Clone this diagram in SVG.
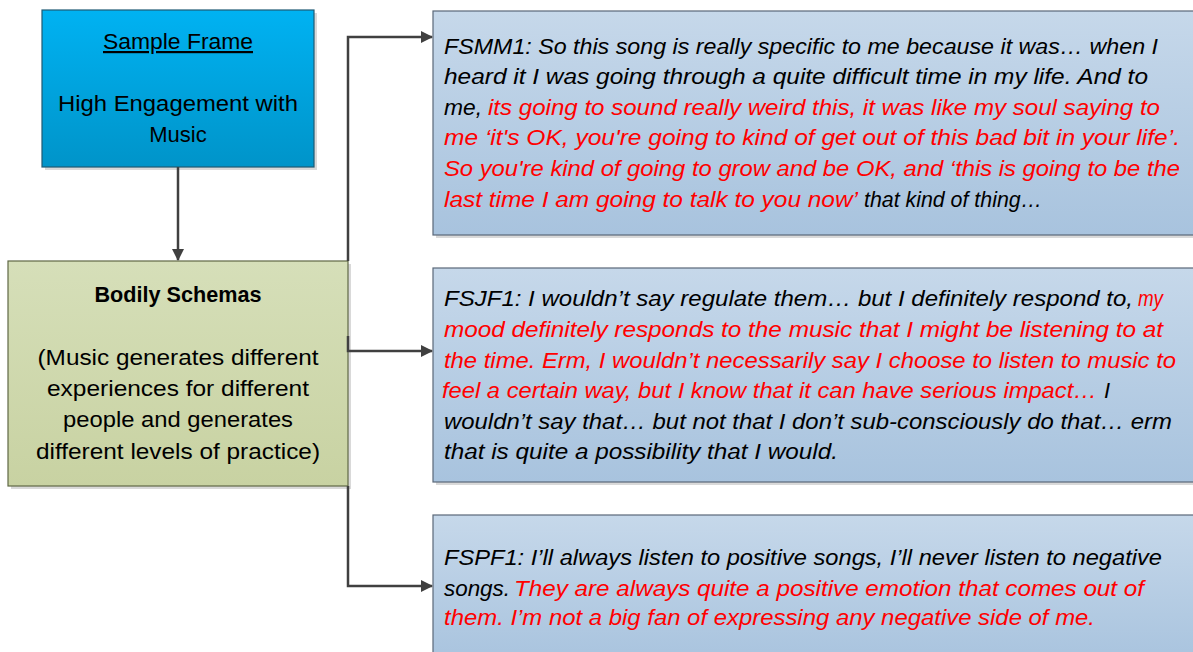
<svg xmlns="http://www.w3.org/2000/svg" width="1193" height="652" viewBox="0 0 1193 652">
  <style>
    .lbl { font-family: "Liberation Sans", Arial, sans-serif; font-size: 22px; fill: #000; }
    .ctr { text-anchor: middle; }
    .quote { font-family: "Liberation Sans", Arial, sans-serif; font-size: 22px; font-style: italic; }
    .blk { fill: #000; }
    .red { fill: #ff0000; }
    .shadow { fill: #d9d9d9; }
    .conn { fill: none; stroke: #404040; stroke-width: 2.5; }
  </style>
  <defs>
    <linearGradient id="gBlue" x1="0" y1="0" x2="0" y2="1">
      <stop offset="0" stop-color="#00b2f2"/>
      <stop offset="1" stop-color="#0094c9"/>
    </linearGradient>
    <linearGradient id="gGreen" x1="0" y1="0" x2="0" y2="1">
      <stop offset="0" stop-color="#d6dfb9"/>
      <stop offset="1" stop-color="#c8d2a2"/>
    </linearGradient>
    <linearGradient id="gQuote" x1="0" y1="0" x2="0" y2="1">
      <stop offset="0" stop-color="#c6d8ea"/>
      <stop offset="1" stop-color="#a8c3de"/>
    </linearGradient>
    <marker id="arrow" viewBox="0 0 12 12" refX="11" refY="6" markerWidth="12" markerHeight="12" markerUnits="userSpaceOnUse" orient="auto">
      <path d="M0,0 L12,6 L0,12 Z" fill="#404040"/>
    </marker>
  </defs>

  <!-- Sample frame -->
  <g id="sample-frame">
    <rect class="shadow" x="45" y="13" width="272" height="157"/>
    <rect x="42" y="10" width="272" height="157" fill="url(#gBlue)" stroke="#1e5a74" stroke-width="1.2"/>
    <text class="lbl ctr" x="178" y="49" text-decoration="underline" textLength="150" lengthAdjust="spacingAndGlyphs">Sample Frame</text>
    <text class="lbl ctr" x="178" y="111" textLength="240" lengthAdjust="spacingAndGlyphs">High Engagement with</text>
    <text class="lbl ctr" x="178" y="142">Music</text>
  </g>

  <!-- Bodily schemas -->
  <g id="bodily-schemas">
    <rect class="shadow" x="11" y="264" width="340" height="225"/>
    <rect x="8" y="261" width="340" height="225" fill="url(#gGreen)" stroke="#5f6845" stroke-width="1.2"/>
    <text class="lbl ctr" x="178" y="302" font-weight="bold" textLength="167" lengthAdjust="spacingAndGlyphs">Bodily Schemas</text>
    <text class="lbl ctr" x="178" y="365" textLength="281" lengthAdjust="spacingAndGlyphs">(Music generates different</text>
    <text class="lbl ctr" x="178" y="396" textLength="262" lengthAdjust="spacingAndGlyphs">experiences for different</text>
    <text class="lbl ctr" x="178" y="427" textLength="230" lengthAdjust="spacingAndGlyphs">people and generates</text>
    <text class="lbl ctr" x="178" y="459" textLength="284" lengthAdjust="spacingAndGlyphs">different levels of practice)</text>
  </g>

  <!-- Quote FSMM1 -->
  <g id="quote-fsmm1">
    <rect class="shadow" x="436" y="14" width="770" height="224"/>
    <rect x="433" y="11" width="770" height="224" fill="url(#gQuote)" stroke="#5a6878" stroke-width="1.2"/>
    <text class="quote blk" x="444" y="54" textLength="714" lengthAdjust="spacingAndGlyphs">FSMM1: So this song is really specific to me because it was… when I</text>
    <text class="quote blk" x="444" y="84" textLength="704" lengthAdjust="spacingAndGlyphs">heard it I was going through a quite difficult time in my life. And to</text>
    <text class="quote blk" x="444" y="115" textLength="38" lengthAdjust="spacingAndGlyphs">me,</text>
    <text class="quote red" x="488" y="115" textLength="672" lengthAdjust="spacingAndGlyphs">its going to sound really weird this, it was like my soul saying to</text>
    <text class="quote red" x="444" y="145" textLength="736" lengthAdjust="spacingAndGlyphs">me ‘it's OK, you're going to kind of get out of this bad bit in your life’.</text>
    <text class="quote red" x="444" y="176" textLength="736" lengthAdjust="spacingAndGlyphs">So you're kind of going to grow and be OK, and ‘this is going to be the</text>
    <text class="quote red" x="444" y="207" textLength="414" lengthAdjust="spacingAndGlyphs">last time I am going to talk to you now’</text>
    <text class="quote blk" x="864" y="207" textLength="178" lengthAdjust="spacingAndGlyphs">that kind of thing…</text>
  </g>

  <!-- Quote FSJF1 -->
  <g id="quote-fsjf1">
    <rect class="shadow" x="436" y="271" width="770" height="214"/>
    <rect x="433" y="268" width="770" height="214" fill="url(#gQuote)" stroke="#5a6878" stroke-width="1.2"/>
    <text class="quote blk" x="444" y="306" textLength="689" lengthAdjust="spacingAndGlyphs">FSJF1: I wouldn’t say regulate them… but I definitely respond to,</text>
    <text class="quote red" x="1138" y="306" textLength="25" lengthAdjust="spacingAndGlyphs">my</text>
    <text class="quote red" x="444" y="337" textLength="719" lengthAdjust="spacingAndGlyphs">mood definitely responds to the music that I might be listening to at</text>
    <text class="quote red" x="444" y="368" textLength="732" lengthAdjust="spacingAndGlyphs">the time. Erm, I wouldn’t necessarily say I choose to listen to music to</text>
    <text class="quote red" x="442" y="398" textLength="655" lengthAdjust="spacingAndGlyphs">feel a certain way, but I know that it can have serious impact…</text>
    <text class="quote blk" x="1104" y="398">I</text>
    <text class="quote blk" x="444" y="429" textLength="728" lengthAdjust="spacingAndGlyphs">wouldn’t say that… but not that I don’t sub-consciously do that… erm</text>
    <text class="quote blk" x="444" y="459" textLength="394" lengthAdjust="spacingAndGlyphs">that is quite a possibility that I would.</text>
  </g>

  <!-- Quote FSPF1 -->
  <g id="quote-fspf1">
    <rect class="shadow" x="436" y="518" width="770" height="150"/>
    <rect x="433" y="515" width="770" height="150" fill="url(#gQuote)" stroke="#5a6878" stroke-width="1.2"/>
    <text class="quote blk" x="444" y="565" textLength="718" lengthAdjust="spacingAndGlyphs">FSPF1: I’ll always listen to positive songs, I’ll never listen to negative</text>
    <text class="quote blk" x="444" y="596" textLength="66" lengthAdjust="spacingAndGlyphs">songs.</text>
    <text class="quote red" x="514" y="596" textLength="630" lengthAdjust="spacingAndGlyphs">They are always quite a positive emotion that comes out of</text>
    <text class="quote red" x="444" y="625" textLength="651" lengthAdjust="spacingAndGlyphs">them. I’m not a big fan of expressing any negative side of me.</text>
  </g>

  <!-- Connectors -->
  <g id="connectors">
    <path class="conn" d="M178,167 V260" marker-end="url(#arrow)"/>
    <path class="conn" d="M348,261 V37 H432" marker-end="url(#arrow)"/>
    <path class="conn" d="M348,336 V351 H432" marker-end="url(#arrow)"/>
    <path class="conn" d="M348,486 V586 H432" marker-end="url(#arrow)"/>
  </g>
</svg>
